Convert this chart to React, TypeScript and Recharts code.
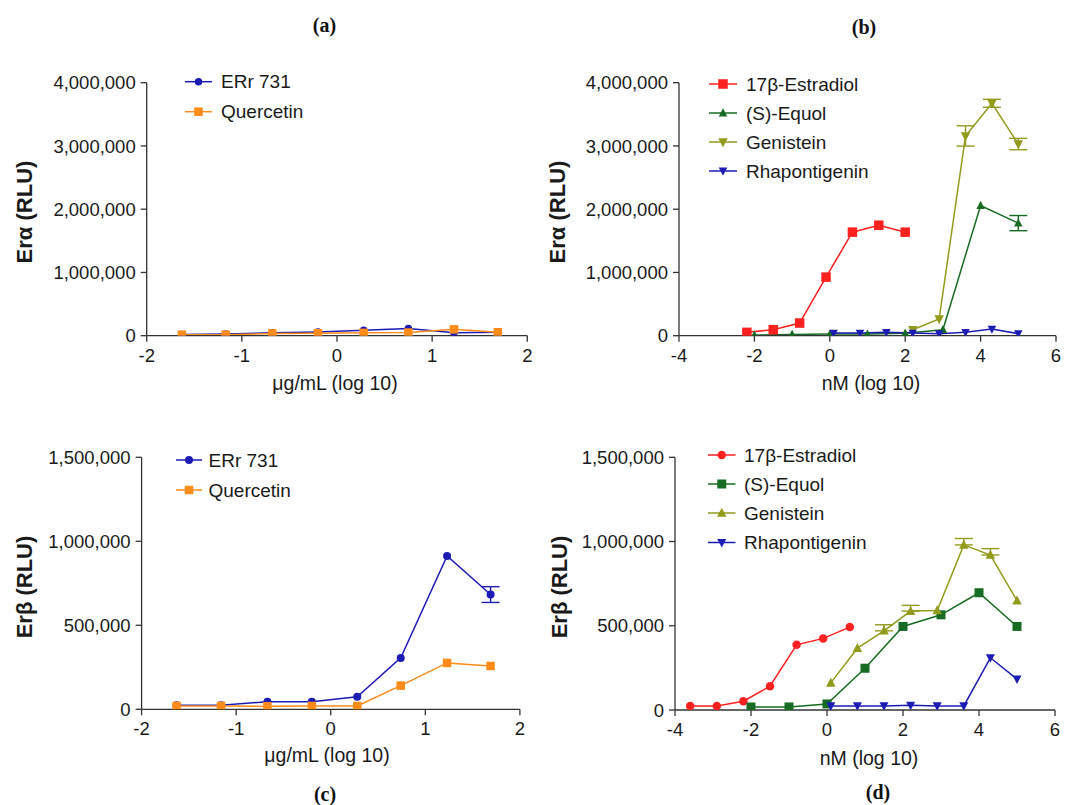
import React from 'react';
import { LineChart, Line, XAxis, YAxis, ErrorBar, Label } from 'recharts';

const W = 1065;
const H = 805;
const FONT = '"Liberation Sans", Arial, Helvetica, sans-serif';
const SERIF = '"Liberation Serif", "Times New Roman", serif';
const TEXT = '#1a1a1a';
const AXIS = '#333333';

const BLUE = '#1c1cb4';
const ORANGE = '#ff8c1a';
const RED = '#ff2020';
const GREEN = '#176b22';
const OLIVE = '#939b1c';

// ---------- Panel (a): ERα, µg/mL ----------
const aX = [-1.63, -1.17, -0.68, -0.2, 0.28, 0.75, 1.23, 1.69];
const aErr731 = [20000, 25000, 45000, 60000, 85000, 115000, 45000, 55000];
const aQuercetin = [15000, 15000, 35000, 40000, 45000, 50000, 100000, 55000];

// ---------- Panel (b): ERα, nM ----------
const bEstradiolX = [-2.2, -1.5, -0.8, -0.1, 0.6, 1.3, 2.0];
const bEstradiol = [53000, 95000, 200000, 926000, 1637000, 1747000, 1637000];
const bEquolX = [-2, -1, 0, 1, 2, 3, 4, 5];
const bEquol = [10000, 20000, 26000, 26000, 40000, 95000, 2058000, 1780000];
const bEquolErr = [0, 0, 0, 0, 0, 0, 0, 120000];
const bGenisteinX = [2.2, 2.9, 3.6, 4.3, 5.0];
const bGenistein = [95000, 263000, 3158000, 3674000, 3030000];
const bGenisteinErr = [0, 0, 160000, 63000, 90000];
const bRhapX = [0.1, 0.8, 1.5, 2.2, 2.9, 3.6, 4.3, 5.0];
const bRhap = [42000, 42000, 53000, 42000, 32000, 53000, 105000, 32000];

// ---------- Panel (c): ERβ, µg/mL ----------
const cX = [-1.63, -1.16, -0.67, -0.2, 0.28, 0.74, 1.23, 1.69];
const cErr731 = [24000, 24000, 45000, 45000, 75000, 306000, 913000, 683000];
const cErr731Err = [0, 0, 0, 0, 0, 0, 0, 47000];
const cQuercetin = [20000, 20000, 18000, 20000, 20000, 141000, 276000, 258000];

// ---------- Panel (d): ERβ, nM ----------
const dEstradiolX = [-3.6, -2.9, -2.2, -1.5, -0.8, -0.1, 0.6];
const dEstradiol = [24000, 24000, 52000, 141000, 387000, 425000, 492000];
const dEquolX = [-2, -1, 0, 1, 2, 3, 4, 5];
const dEquol = [18000, 18000, 36000, 248000, 496000, 565000, 696000, 496000];
const dGenisteinX = [0.1, 0.8, 1.5, 2.2, 2.9, 3.6, 4.3, 5.0];
const dGenistein = [161000, 367000, 470000, 587000, 591000, 980000, 920000, 649000];
const dGenisteinErrUp = [0, 0, 36000, 34000, 0, 38000, 38000, 0];
const dRhapX = [0.1, 0.8, 1.5, 2.2, 2.9, 3.6, 4.3, 5.0];
const dRhap = [24000, 24000, 24000, 28000, 24000, 24000, 310000, 183000];

// ---------- ticks ----------
const xTicksUg = [-2, -1, 0, 1, 2];
const xTicksNm = [-4, -2, 0, 2, 4, 6];
const yTicksAlpha = [0, 1000000, 2000000, 3000000, 4000000];
const yTicksBeta = [0, 500000, 1000000, 1500000];

type Shape = 'circle' | 'square' | 'up' | 'down';
type Series = {
  name: string;
  color: string;
  shape: Shape;
  size: number;
  xs: number[];
  ys: number[];
  errLow?: number[];
  errHigh?: number[];
};

function Marker({ shape, cx, cy, size, color }: { shape: Shape; cx: number; cy: number; size: number; color: string }) {
  if (cx == null || cy == null || isNaN(cx) || isNaN(cy)) return null;
  const h = size / 2;
  if (shape === 'circle') return <circle cx={cx} cy={cy} r={h} fill={color} />;
  if (shape === 'square') return <rect x={cx - h} y={cy - h} width={size} height={size} fill={color} />;
  if (shape === 'up')
    return <polygon points={`${cx},${cy - size * 0.55} ${cx + h},${cy + size * 0.4} ${cx - h},${cy + size * 0.4}`} fill={color} />;
  return <polygon points={`${cx},${cy + size * 0.55} ${cx + h},${cy - size * 0.4} ${cx - h},${cy - size * 0.4}`} fill={color} />;
}

type PanelCfg = {
  id: string;
  title: string;
  titlePos: [number, number];
  plot: { l: number; r: number; t: number; b: number };
  xDomain: [number, number];
  xTicks: number[];
  yMax: number;
  yTicks: number[];
  yLabel: string;
  yLabelPos: [number, number];
  xLabel: string;
  xLabelPos: [number, number];
  legend: { x1: number; x2: number; textX: number; ys: number[] };
  series: Series[];
};

const panels: PanelCfg[] = [
  {
    id: 'a',
    title: '(a)',
    titlePos: [324.5, 25],
    plot: { l: 146.7, r: 527.3, t: 82.7, b: 335.7 },
    xDomain: [-2, 2],
    xTicks: xTicksUg,
    yMax: 4000000,
    yTicks: yTicksAlpha,
    yLabel: 'Erα (RLU)',
    yLabelPos: [24, 212],
    xLabel: 'μg/mL (log 10)',
    xLabelPos: [335, 383],
    legend: { x1: 185, x2: 212, textX: 221, ys: [81.7, 111.7] },
    series: [
      { name: 'ERr 731', color: BLUE, shape: 'circle', size: 7.5, xs: aX, ys: aErr731 },
      { name: 'Quercetin', color: ORANGE, shape: 'square', size: 8.5, xs: aX, ys: aQuercetin },
    ],
  },
  {
    id: 'b',
    title: '(b)',
    titlePos: [864, 27],
    plot: { l: 679, r: 1056, t: 82.7, b: 335.7 },
    xDomain: [-4, 6],
    xTicks: xTicksNm,
    yMax: 4000000,
    yTicks: yTicksAlpha,
    yLabel: 'Erα (RLU)',
    yLabelPos: [557, 212],
    xLabel: 'nM (log 10)',
    xLabelPos: [871, 383],
    legend: { x1: 709, x2: 737, textX: 746, ys: [84, 113, 142, 171] },
    series: [
      { name: '17β-Estradiol', color: RED, shape: 'square', size: 9.5, xs: bEstradiolX, ys: bEstradiol },
      { name: '(S)-Equol', color: GREEN, shape: 'up', size: 8.5, xs: bEquolX, ys: bEquol, errLow: bEquolErr, errHigh: bEquolErr },
      { name: 'Genistein', color: OLIVE, shape: 'down', size: 9.5, xs: bGenisteinX, ys: bGenistein, errLow: bGenisteinErr, errHigh: bGenisteinErr },
      { name: 'Rhapontigenin', color: BLUE, shape: 'down', size: 8.5, xs: bRhapX, ys: bRhap },
    ],
  },
  {
    id: 'c',
    title: '(c)',
    titlePos: [325, 794],
    plot: { l: 141.6, r: 519.9, t: 457.3, b: 709.3 },
    xDomain: [-2, 2],
    xTicks: xTicksUg,
    yMax: 1500000,
    yTicks: yTicksBeta,
    yLabel: 'Erβ (RLU)',
    yLabelPos: [24, 587],
    xLabel: 'μg/mL (log 10)',
    xLabelPos: [327, 755],
    legend: { x1: 176, x2: 202, textX: 208.5, ys: [460, 490] },
    series: [
      { name: 'ERr 731', color: BLUE, shape: 'circle', size: 8, xs: cX, ys: cErr731, errLow: cErr731Err, errHigh: cErr731Err },
      { name: 'Quercetin', color: ORANGE, shape: 'square', size: 8.5, xs: cX, ys: cQuercetin },
    ],
  },
  {
    id: 'd',
    title: '(d)',
    titlePos: [878, 792],
    plot: { l: 675, r: 1055, t: 457.3, b: 710 },
    xDomain: [-4, 6],
    xTicks: xTicksNm,
    yMax: 1500000,
    yTicks: yTicksBeta,
    yLabel: 'Erβ (RLU)',
    yLabelPos: [559, 587],
    xLabel: 'nM (log 10)',
    xLabelPos: [869, 758],
    legend: { x1: 708, x2: 735.5, textX: 744, ys: [455, 484, 513, 542.5] },
    series: [
      { name: '17β-Estradiol', color: RED, shape: 'circle', size: 8.5, xs: dEstradiolX, ys: dEstradiol },
      { name: '(S)-Equol', color: GREEN, shape: 'square', size: 9, xs: dEquolX, ys: dEquol },
      {
        name: 'Genistein', color: OLIVE, shape: 'up', size: 9.5, xs: dGenisteinX, ys: dGenistein,
        errLow: dGenisteinX.map(() => 0), errHigh: dGenisteinErrUp,
      },
      { name: 'Rhapontigenin', color: BLUE, shape: 'down', size: 9, xs: dRhapX, ys: dRhap },
    ],
  },
];

const fmt = (v: number) => v.toLocaleString('en-US');

const Y_W = 100;
const X_H = 60;

function Panel({ cfg }: { cfg: PanelCfg }) {
  const margin = {
    left: cfg.plot.l - Y_W,
    right: W - cfg.plot.r,
    top: cfg.plot.t,
    bottom: H - cfg.plot.b - X_H,
  };
  const tickStyle = { fill: TEXT, fontSize: 18.5, fontFamily: FONT };
  const errSeries = cfg.series.filter((s) => s.errHigh);
  return (
    <div style={{ position: 'absolute', left: 0, top: 0, width: W, height: H }}>
      <LineChart width={W} height={H} margin={margin}>
        <XAxis
          type="number"
          dataKey="x"
          domain={cfg.xDomain}
          ticks={cfg.xTicks}
          interval={0}
          height={X_H}
          tickSize={6}
          tickMargin={7}
          axisLine={{ stroke: AXIS, strokeWidth: 1.3 }}
          tickLine={{ stroke: AXIS, strokeWidth: 1.3 }}
          tick={tickStyle}
          allowDataOverflow
        >
          <Label
            content={() => (
              <text
                x={cfg.xLabelPos[0]}
                y={cfg.xLabelPos[1]}
                dy="0.35em"
                textAnchor="middle"
                fill={TEXT}
                fontSize={19.5}
                fontFamily={FONT}
              >
                {cfg.xLabel}
              </text>
            )}
          />
        </XAxis>
        <YAxis
          type="number"
          domain={[0, cfg.yMax]}
          ticks={cfg.yTicks}
          interval={0}
          width={Y_W}
          tickSize={6}
          tickMargin={5}
          tickFormatter={fmt}
          axisLine={{ stroke: AXIS, strokeWidth: 1.3 }}
          tickLine={{ stroke: AXIS, strokeWidth: 1.3 }}
          tick={tickStyle}
          allowDataOverflow
        >
          <Label
            content={() => (
              <text
                x={cfg.yLabelPos[0]}
                y={cfg.yLabelPos[1]}
                dy="0.35em"
                textAnchor="middle"
                transform={`rotate(-90 ${cfg.yLabelPos[0]} ${cfg.yLabelPos[1]})`}
                fill={TEXT}
                fontSize={22}
                fontWeight="bold"
                fontFamily={FONT}
              >
                {cfg.yLabel}
              </text>
            )}
          />
        </YAxis>
        {errSeries.map((s) => {
          const rows = s.xs
            .map((x, i) => ({ x, y: s.ys[i], e: [s.errLow ? s.errLow[i] : 0, s.errHigh ? s.errHigh[i] : 0] }))
            .filter((r) => r.e[0] > 0 || r.e[1] > 0);
          return (
            <Line
              key={`${cfg.id}-${s.name}-err`}
              data={rows}
              dataKey="y"
              stroke="none"
              strokeWidth={0}
              fill="none"
              dot={(p: any) => <g key={`${cfg.id}-${s.name}-errdot-${p.index}`} />}
              activeDot={false}
              legendType="none"
              isAnimationActive={false}
            >
              <ErrorBar dataKey="e" direction="y" width={9} stroke={s.color} strokeWidth={1.4} isAnimationActive={false} />
            </Line>
          );
        })}
        {cfg.series.map((s) => {
          const rows = s.xs.map((x, i) => ({ x, y: s.ys[i] }));
          return (
            <Line
              key={`${cfg.id}-${s.name}`}
              data={rows}
              dataKey="y"
              name={s.name}
              stroke={s.color}
              strokeWidth={1.5}
              isAnimationActive={false}
              activeDot={false}
              dot={(p: any) => (
                <Marker key={`${cfg.id}-${s.name}-${p.index}`} shape={s.shape} cx={p.cx} cy={p.cy} size={s.size} color={s.color} />
              )}
            />
          );
        })}
      </LineChart>
    </div>
  );
}

function Overlay() {
  return (
    <svg width={W} height={H} style={{ position: 'absolute', left: 0, top: 0, pointerEvents: 'none' }}>
      {panels.map((cfg) => (
        <g key={`ov-${cfg.id}`}>
          <text
            x={cfg.titlePos[0]}
            y={cfg.titlePos[1]}
            dy="0.35em"
            textAnchor="middle"
            fontFamily={SERIF}
            fontWeight="bold"
            fontSize={20}
            fill="#111"
          >
            {cfg.title}
          </text>
          {cfg.series.map((s, i) => {
            const y = cfg.legend.ys[i];
            const mx = (cfg.legend.x1 + cfg.legend.x2) / 2;
            return (
              <g key={`lg-${cfg.id}-${s.name}`}>
                <line x1={cfg.legend.x1} x2={cfg.legend.x2} y1={y} y2={y} stroke={s.color} strokeWidth={1.5} />
                <Marker shape={s.shape} cx={mx} cy={y} size={s.size} color={s.color} />
                <text x={cfg.legend.textX} y={y} dy="0.35em" fontFamily={FONT} fontSize={19} fill={TEXT}>
                  {s.name}
                </text>
              </g>
            );
          })}
        </g>
      ))}
    </svg>
  );
}

export default function App() {
  return (
    <div style={{ position: 'absolute', left: 0, top: 0, width: W, height: H, background: '#fff' }}>
      {panels.map((cfg) => (
        <Panel key={cfg.id} cfg={cfg} />
      ))}
      <Overlay />
    </div>
  );
}
